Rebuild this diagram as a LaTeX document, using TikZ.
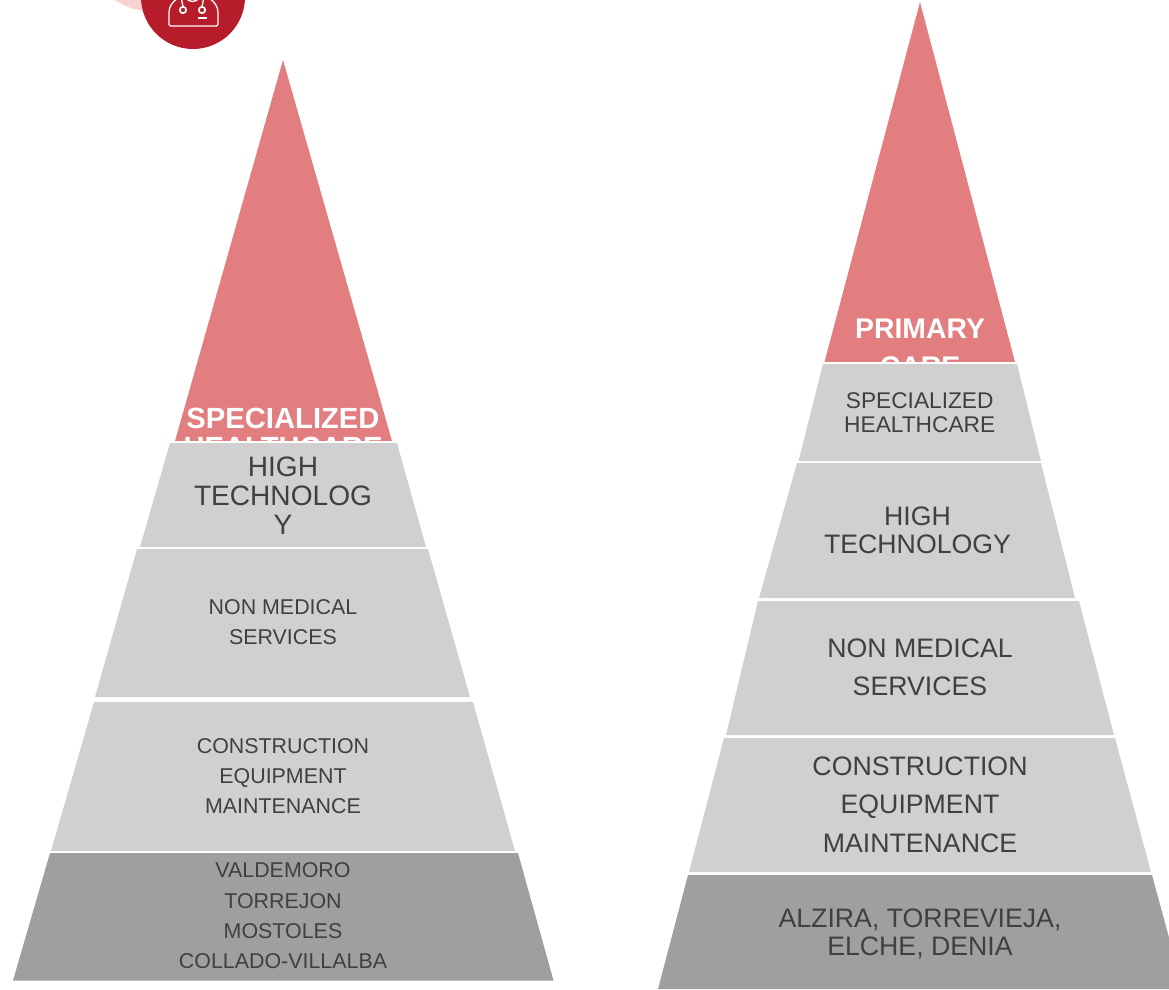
\documentclass[tikz,border=0pt]{standalone}
\usepackage{fontspec}
\setmainfont{Liberation Sans}
\usepackage{tikz}
\usetikzlibrary{positioning, calc}
\definecolor{peak}{HTML}{E27D80}
\definecolor{tier}{HTML}{D0D0D0}
\definecolor{base}{HTML}{9F9F9F}
\definecolor{ink}{HTML}{404040}
\definecolor{badge}{HTML}{B71C2A}
\definecolor{halo}{HTML}{F9D2D2}

\begin{document}
\begin{tikzpicture}[x=1pt, y=-1pt]
        \tikzstyle{peakfill}=[fill=peak];
        \tikzstyle{tierfill}=[fill=tier];
        \tikzstyle{basefill}=[fill=base];
        \tikzstyle{peaktext}=[text=white, align=center, inner sep=0pt, font=\bfseries];
        \tikzstyle{tiertext}=[text=ink, align=center, inner sep=0pt];
        \tikzstyle{iconline}=[draw=white, line width=1.3pt];

        \clip (0,0) rectangle (1169,989);

        % badge
        \fill[halo] (150,-50) circle (61);
        \fill[badge] (193,-3) circle (52);
        \draw[iconline, rounded corners=1.5pt] (178,-2) .. controls (172,2) and (169,7) .. (169,14) -- (169,26) -- (218,26) -- (218,14) .. controls (218,7) and (215,2) .. (209,-2);
        \draw[iconline] (181,-3) -- (183,6.5) (204,-3) -- (202,6.5);
        \draw[iconline] (186,-3) .. controls (187,3) and (198,3) .. (199,-3);
        \draw[iconline, line width=1.6pt] (183,10) circle (3.2) (202,10) circle (3.2);
        \draw[iconline] (198,18) -- (207,18);

        % left pyramid
        \fill[peakfill] (283,60) -- (392,441) -- (175,441) -- cycle;
        \node[peaktext, font=\bfseries\fontsize{29.2}{29}\selectfont] (lspec) at (283,433) {SPECIALIZED\\HEALTHCARE};
        \fill[white] (160,441) rectangle (410,443);
        \fill[tierfill] (170,443) -- (397,443) -- (426,547) -- (140,547) -- cycle;
        \fill[tierfill] (137,549) -- (428,549) -- (470,697) -- (95,697) -- cycle;
        \fill[tierfill] (94,702) -- (473,702) -- (515,851) -- (51,851) -- cycle;
        \fill[basefill] (50,853) -- (518,853) -- (553.5,980.5) -- (13,980.5) -- cycle;
        \node[tiertext, font=\fontsize{28.1}{29}\selectfont] (lhigh) at (283,496) {HIGH\\TECHNOLOG\\Y};
        \node[tiertext, font=\fontsize{21.4}{30}\selectfont] (lnon) at (283,622.5) {NON MEDICAL\\SERVICES};
        \node[tiertext, font=\fontsize{21.4}{30}\selectfont] (lcons) at (283,776) {CONSTRUCTION\\EQUIPMENT\\MAINTENANCE};
        \node[tiertext, font=\fontsize{21.4}{30.4}\selectfont] (lcity) at (283,916) {VALDEMORO\\TORREJON\\MOSTOLES\\COLLADO-VILLALBA};

        % right pyramid
        \fill[peakfill] (920,2) -- (1015,362) -- (824.5,362) -- cycle;
        \node[peaktext, font=\bfseries\fontsize{28.4}{38}\selectfont] (rprim) at (920,347.5) {PRIMARY\\CARE};
        \fill[white] (810,362) rectangle (1030,364);
        \fill[tierfill] (823,364) -- (1017,364) -- (1041,461) -- (798.5,461) -- cycle;
        \fill[tierfill] (797,463) -- (1041,463) -- (1075,598) -- (759,598) -- cycle;
        \fill[tierfill] (758,601) -- (1079,601) -- (1114,735) -- (726,735) -- cycle;
        \fill[tierfill] (724,738) -- (1115,738) -- (1151,872) -- (689,872) -- cycle;
        \fill[basefill] (688,875) -- (1152,875) -- (1183,989) -- (658,989) -- cycle;
        \node[tiertext, font=\fontsize{22.7}{24}\selectfont] (rspec) at (919.7,412.5) {SPECIALIZED\\HEALTHCARE};
        \node[tiertext, font=\fontsize{26.7}{28}\selectfont] (rhigh) at (917.5,530) {HIGH\\TECHNOLOGY};
        \node[tiertext, font=\fontsize{26.7}{38}\selectfont] (rnon) at (920,667) {NON MEDICAL\\SERVICES};
        \node[tiertext, font=\fontsize{26.7}{38.5}\selectfont] (rcons) at (920,804.5) {CONSTRUCTION\\EQUIPMENT\\MAINTENANCE};
        \node[tiertext, font=\fontsize{26.7}{28}\selectfont] (rcity) at (920,934) {ALZIRA, TORREVIEJA,\\ELCHE, DENIA};
      \end{tikzpicture}
\end{document}
